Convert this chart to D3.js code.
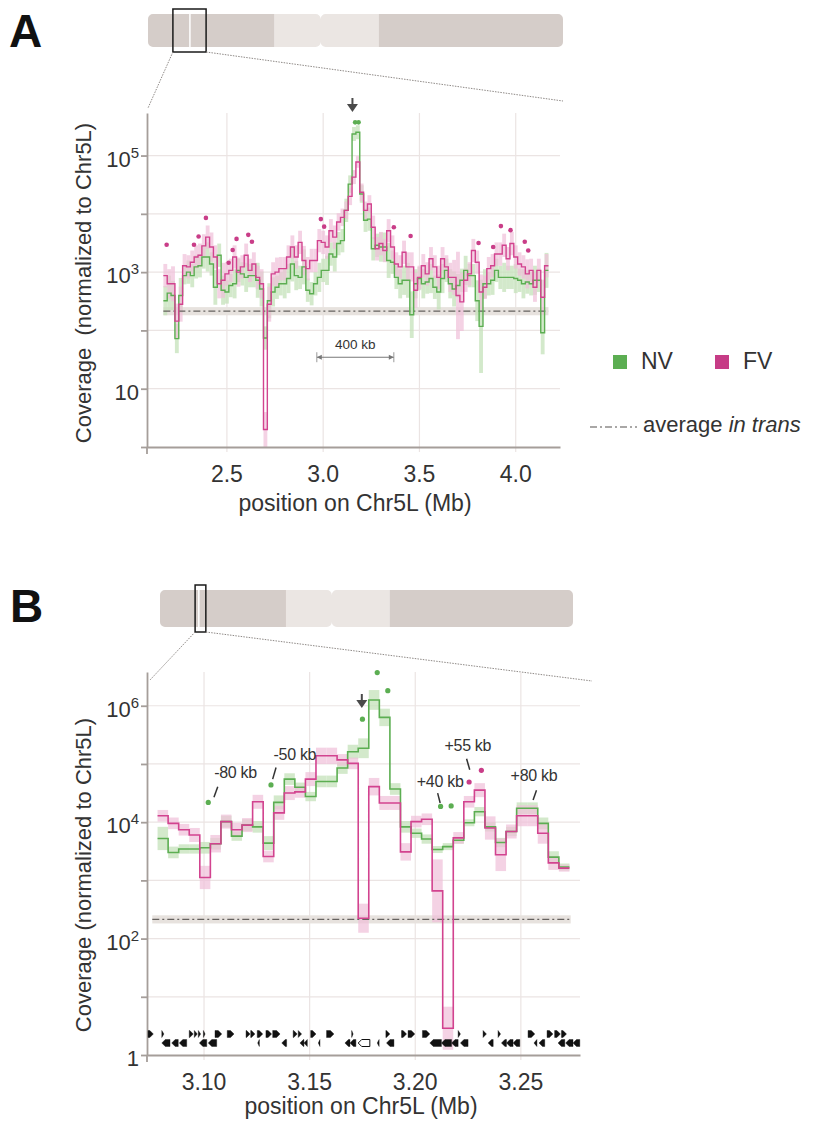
<!DOCTYPE html>
<html>
<head>
<meta charset="utf-8">
<script src="https://cdn.jsdelivr.net/npm/d3@7"></script>
<style>
  body { margin: 0; background: #fff; }
  svg text { font-family: 'Liberation Sans', Arial, sans-serif; fill: #333; white-space: pre; }
</style>
</head>
<body>
<div id="chart"></div>
<script>

// ---- panel A: 20 kb bins, log10 coverage ----
var binStartA = 2.17, binWidthA = 0.02;

var nvA = [
  2.51, 2.64, 2.60, 1.86, 2.60, 2.94, 3.00, 2.94, 3.09, 3.11,
  3.26, 3.26, 3.14, 2.74, 3.29, 2.69, 2.66, 2.77, 2.80, 3.03,
  2.97, 2.91, 2.94, 2.94, 2.86, 2.71, 1.87, 2.51, 2.66, 2.74,
  2.80, 2.80, 2.89, 3.14, 2.94, 2.91, 3.09, 2.69, 2.63, 2.80,
  2.91, 3.03, 3.03, 3.31, 3.26, 3.49, 3.54, 4.06, 4.51, 5.37,
  5.40, 4.34, 3.89, 3.91, 3.40, 3.46, 3.43, 3.43, 3.20, 3.17,
  2.91, 2.80, 2.86, 2.86, 2.27, 2.80, 2.89, 2.80, 2.83, 2.89,
  2.74, 2.66, 2.89, 3.03, 2.80, 2.71, 2.77, 2.86, 3.03, 2.94,
  2.94, 2.51, 2.07, 2.80, 2.80, 2.86, 3.03, 2.91, 2.91, 2.91,
  2.91, 2.89, 2.86, 2.80, 2.83, 2.80, 2.86, 2.86, 1.96, 3.03
];

var fvA = [
  2.94, 2.80, 2.80, 2.16, 2.45, 3.11, 3.09, 3.17, 3.26, 3.29,
  3.45, 3.60, 3.43, 3.26, 2.80, 2.86, 2.97, 3.03, 3.26, 3.00,
  3.09, 3.29, 3.03, 3.14, 2.91, 2.80, 0.30, 2.45, 2.97, 3.00,
  3.06, 3.06, 3.26, 3.43, 3.26, 3.51, 3.20, 3.06, 3.20, 3.20,
  3.54, 3.51, 3.43, 3.71, 3.60, 3.86, 3.94, 4.06, 4.30, 4.63,
  4.89, 4.37, 4.06, 4.17, 3.77, 3.40, 3.49, 3.37, 3.71, 3.43,
  3.14, 3.09, 3.34, 3.09, 3.09, 2.69, 2.91, 3.11, 2.97, 3.23,
  3.09, 2.91, 3.23, 3.09, 2.91, 2.91, 2.60, 2.49, 2.86, 2.97,
  3.37, 3.17, 2.66, 2.74, 3.06, 3.11, 3.31, 3.31, 3.46, 3.23,
  3.49, 3.26, 3.14, 3.09, 2.97, 3.03, 2.74, 3.03, 2.57, 3.11
];

// replicate spread (half range, log10 units)
var nvSpreadA = [
  0.25, 0.30, 0.25, 0.25, 0.30, 0.15, 0.20, 0.20, 0.20, 0.20,
  0.20, 0.25, 0.20, 0.30, 0.20, 0.25, 0.20, 0.20, 0.25, 0.20,
  0.20, 0.25, 0.20, 0.20, 0.30, 0.30, 0.20, 0.30, 0.25, 0.20,
  0.20, 0.25, 0.25, 0.30, 0.25, 0.20, 0.30, 0.20, 0.20, 0.20,
  0.25, 0.20, 0.25, 0.20, 0.25, 0.20, 0.20, 0.20, 0.15, 0.12,
  0.12, 0.15, 0.20, 0.20, 0.20, 0.20, 0.25, 0.25, 0.30, 0.20,
  0.20, 0.25, 0.25, 0.30, 0.40, 0.25, 0.20, 0.25, 0.20, 0.25,
  0.20, 0.30, 0.25, 0.20, 0.25, 0.30, 0.20, 0.20, 0.25, 0.20,
  0.20, 0.35, 0.80, 0.25, 0.20, 0.25, 0.20, 0.20, 0.25, 0.20,
  0.20, 0.25, 0.20, 0.25, 0.20, 0.20, 0.25, 0.20, 0.37, 0.30
];

var fvSpreadA = [
  0.20, 0.25, 0.30, 0.30, 0.30, 0.20, 0.20, 0.20, 0.20, 0.20,
  0.20, 0.20, 0.25, 0.20, 0.25, 0.30, 0.20, 0.20, 0.20, 0.25,
  0.20, 0.20, 0.20, 0.20, 0.20, 0.25, 0.30, 0.30, 0.20, 0.25,
  0.20, 0.20, 0.20, 0.20, 0.20, 0.20, 0.25, 0.20, 0.20, 0.20,
  0.20, 0.20, 0.20, 0.20, 0.20, 0.15, 0.15, 0.15, 0.15, 0.12,
  0.10, 0.15, 0.15, 0.15, 0.20, 0.20, 0.20, 0.20, 0.20, 0.20,
  0.20, 0.20, 0.20, 0.25, 0.25, 0.30, 0.20, 0.20, 0.20, 0.20,
  0.20, 0.20, 0.20, 0.20, 0.25, 0.30, 0.75, 0.50, 0.20, 0.20,
  0.20, 0.20, 0.30, 0.20, 0.20, 0.20, 0.20, 0.20, 0.20, 0.20,
  0.20, 0.20, 0.20, 0.20, 0.25, 0.20, 0.25, 0.20, 0.30, 0.20
];

// outliers [Mb, log10 coverage]
var nvDotsA = [[3.166, 5.57], [3.184, 5.57]];
var fvDotsA = [
  [2.187, 3.47], [2.329, 3.47], [2.353, 3.61], [2.391, 3.93], [2.509, 3.16],
  [2.530, 3.38], [2.550, 3.57], [2.611, 3.64], [2.630, 3.52], [2.988, 3.91],
  [3.005, 3.78], [3.367, 3.77], [3.454, 3.62], [3.807, 3.50], [3.883, 3.43],
  [3.923, 3.79], [3.973, 3.72], [4.047, 3.52], [4.065, 3.37]
];

// ---- panel B: 5 kb bins, log10 coverage ----
var binStartB = 3.078, binWidthB = 0.005;

var nvB = [
  3.72, 3.48, 3.54, 3.54, 3.56, 3.63, 4.01, 3.76, 3.95, 3.92,
  3.64, 4.34, 4.74, 4.60, 4.44, 4.70, 4.70, 4.93, 5.21, 5.27,
  6.10, 5.80, 4.57, 3.92, 3.81, 3.71, 3.53, 3.58, 3.69, 3.99,
  4.18, 3.92, 3.65, 3.84, 4.24, 4.24, 3.98, 3.40, 3.23
];

var fvB = [
  4.11, 3.98, 3.87, 3.78, 3.05, 3.63, 4.01, 3.87, 3.95, 4.35,
  3.41, 4.16, 4.50, 4.52, 4.74, 5.14, 5.14, 5.07, 5.01, 2.35,
  4.61, 4.33, 4.33, 3.49, 4.01, 4.05, 2.82, 0.46, 3.73, 4.35,
  4.55, 3.90, 3.44, 3.84, 4.11, 4.11, 3.81, 3.30, 3.21
];

var nvSpreadB = [
  0.20, 0.10, 0.08, 0.08, 0.10, 0.10, 0.10, 0.08, 0.10, 0.10,
  0.12, 0.12, 0.10, 0.08, 0.08, 0.10, 0.10, 0.10, 0.12, 0.17,
  0.17, 0.15, 0.10, 0.10, 0.08, 0.08, 0.06, 0.06, 0.06, 0.06,
  0.08, 0.08, 0.08, 0.08, 0.10, 0.10, 0.10, 0.10, 0.06
];

var fvSpreadB = [
  0.10, 0.10, 0.10, 0.12, 0.20, 0.15, 0.12, 0.12, 0.12, 0.12,
  0.10, 0.12, 0.12, 0.10, 0.12, 0.14, 0.14, 0.10, 0.10, 0.25,
  0.15, 0.12, 0.12, 0.15, 0.10, 0.10, 0.54, 0.37, 0.10, 0.10,
  0.12, 0.20, 0.28, 0.12, 0.18, 0.18, 0.18, 0.12, 0.06
];

var nvDotsB = [[3.102, 4.34], [3.1317, 4.64], [3.175, 5.77], [3.182, 6.57], [3.187, 6.26], [3.212, 4.27], [3.217, 4.28]];
var fvDotsB = [[3.2255, 4.69], [3.2313, 4.89]];

// distance labels: text anchor and leader tick, [Mb, log10]
var distLabelsB = [
  { text: '-80 kb', at: [3.1149, 4.76], tick: [[3.1047, 4.43], [3.1065, 4.61]] },
  { text: '-50 kb', at: [3.1430, 5.07], tick: [[3.1325, 4.74], [3.1341, 4.94]] },
  { text: '+40 kb', at: [3.2118, 4.60], tick: [[3.2106, 4.50], [3.2118, 4.33]] },
  { text: '+55 kb', at: [3.2249, 5.23], tick: [[3.2243, 5.09], [3.2258, 4.90]] },
  { text: '+80 kb', at: [3.2562, 4.71], tick: [[3.2574, 4.55], [3.2558, 4.38]] }
];

// gene models: [start Mb, end Mb, strand, open]
var genesB = [
  [3.0735, 3.0760, 1], [3.0800, 3.0810, 1], [3.0930, 3.0949, 1], [3.0954, 3.0968, 1],
  [3.0973, 3.0984, 1], [3.0997, 3.1005, 1], [3.1052, 3.1084, 1], [3.1110, 3.1142, 1],
  [3.1199, 3.1218, 1], [3.1221, 3.1241, 1], [3.1252, 3.1278, 1], [3.1293, 3.1320, 1],
  [3.1325, 3.1360, 1], [3.1422, 3.1441, 1], [3.1446, 3.1462, 1], [3.1505, 3.1530, 1],
  [3.1580, 3.1615, 1], [3.1699, 3.1706, 1], [3.1861, 3.1880, 1], [3.1935, 3.1959, 1],
  [3.1966, 3.1998, 1], [3.2034, 3.2069, 1], [3.2203, 3.2214, 1], [3.2321, 3.2337, 1],
  [3.2392, 3.2404, 1], [3.2534, 3.2566, 1], [3.2624, 3.2652, 1], [3.2660, 3.2687, 1],
  [3.2692, 3.2716, 1],
  [3.0800, 3.0839, -1], [3.0847, 3.0878, -1], [3.0883, 3.0918, -1], [3.0978, 3.1013, -1],
  [3.1020, 3.1060, -1], [3.1254, 3.1262, -1], [3.1368, 3.1391, -1], [3.1454, 3.1473, -1],
  [3.1473, 3.1489, -1], [3.1541, 3.1549, -1], [3.1667, 3.1691, -1], [3.1691, 3.1719, -1],
  [3.1730, 3.1785, -1, true], [3.1820, 3.1829, -1], [3.1864, 3.1899, -1], [3.2069, 3.2124, -1],
  [3.2124, 3.2172, -1], [3.2172, 3.2203, -1], [3.2214, 3.2250, -1], [3.2345, 3.2369, -1],
  [3.2408, 3.2432, -1], [3.2432, 3.2463, -1], [3.2463, 3.2495, -1], [3.2562, 3.2576, -1],
  [3.2586, 3.2613, -1], [3.2676, 3.2708, -1], [3.2712, 3.2747, -1], [3.2747, 3.2779, -1]
];

var avgInTrans = 2.33;           // log10
var xTicksA = [2.5, 3.0, 3.5, 4.0];
var xTicksB = [3.10, 3.15, 3.20, 3.25];
var yLabelsA = [5, 3, 1];
var yLabelsB = [6, 4, 2, 0];
var scaleBarA = [2.967, 3.367];

// chromosome ideogram, fractions of Chr5L
var chrBands = [[0, 0.305, 'arm'], [0.305, 0.556, 'pale'], [0.556, 1, 'arm']];
var centromere = 0.416;

var colors = { nv: '#5cae52', fv: '#d2438f', nvBand: '#c4e2b9', fvBand: '#f0bfd8',
  arm: '#d5cdc9', pale: '#ebe6e3', grid: '#ebe4e3', axis: '#a59e9a' };

var svg = d3.select('#chart').append('svg')
  .attr('id', 'fig')
  .attr('width', 816)
  .attr('height', 1126);

var CoveragePanel = function () {

  var opt, g, x, y;

  function init(options) {
    opt = options;
    draw();
  }

  function steps(start, width, values) {
    var pts = values.map(function (v, i) { return [start + i * width, v]; });
    pts.push([start + values.length * width, values[values.length - 1]]);
    return pts;
  }

  function drawChromosome() {
    var c = opt.chr;
    var cx = d3.scaleLinear().domain([0, 1]).range([c.x0, c.x1]);
    var h = c.y1 - c.y0;
    var clipId = opt.id + '-chr';

    var clip = g.append('clipPath').attr('id', clipId);
    clip.append('rect').attr('x', cx(0)).attr('y', c.y0)
      .attr('width', cx(centromere) - cx(0)).attr('height', h).attr('rx', 5);
    clip.append('rect').attr('x', cx(centromere)).attr('y', c.y0)
      .attr('width', cx(1) - cx(centromere)).attr('height', h).attr('rx', 5);

    g.append('g').attr('clip-path', 'url(#' + clipId + ')')
      .selectAll('rect')
      .data(chrBands)
      .enter()
      .append('rect')
        .attr('x', function (d) { return cx(d[0]); })
        .attr('width', function (d) { return cx(d[1]) - cx(d[0]); })
        .attr('y', c.y0)
        .attr('height', h)
        .attr('fill', function (d) { return colors[d[2]]; });

    // zoomed window
    g.append('line')
      .attr('x1', cx(c.mark)).attr('x2', cx(c.mark))
      .attr('y1', c.y0).attr('y2', c.y1)
      .attr('stroke', '#fff').attr('stroke-width', 1.5);

    g.append('rect')
      .attr('x', cx(c.view[0])).attr('y', c.y0 - 5)
      .attr('width', cx(c.view[1]) - cx(c.view[0]))
      .attr('height', h + 10)
      .attr('fill', 'none')
      .attr('stroke', '#1a1a1a')
      .attr('stroke-width', 1.5);

    var lines = [[cx(c.view[0]), c.to[0]], [cx(c.view[1]), c.to[1]]];
    g.selectAll('.zoom-line')
      .data(lines)
      .enter()
      .append('line')
        .attr('class', 'zoom-line')
        .attr('x1', function (d) { return d[0]; })
        .attr('y1', c.y1 + 5)
        .attr('x2', function (d) { return d[1][0]; })
        .attr('y2', function (d) { return d[1][1]; })
        .attr('stroke', '#8f8a87')
        .attr('stroke-width', 1)
        .attr('stroke-dasharray', '1.5,1.2');
  }

  function draw() {

    g = svg.append('g');

    x = d3.scaleLinear().domain(opt.xDomain).range([opt.left, opt.right]);
    y = d3.scaleLog().domain([1, Math.pow(10, opt.yTopExp)]).range([opt.bottom, opt.top]);

    var ly = function (v) { return y(Math.pow(10, v)); };
    var decades = d3.range(0, Math.floor(opt.yTopExp) + 1);

    // panel letter
    g.append('text')
      .attr('x', opt.letter[0]).attr('y', opt.letter[1])
      .style('font-size', '46px').style('font-weight', 'bold').style('fill', '#111')
      .text(opt.id.toUpperCase());

    drawChromosome();

    // Grid
    g.append('g').selectAll('line')
        .data(decades.slice(1))
        .enter()
      .append('line')
        .attr('x1', opt.left).attr('x2', opt.right)
        .attr('y1', ly).attr('y2', ly)
        .attr('stroke', colors.grid).attr('stroke-width', 1.2);

    g.append('g').selectAll('line')
        .data(opt.xTicks)
        .enter()
      .append('line')
        .attr('x1', x).attr('x2', x)
        .attr('y1', opt.top).attr('y2', opt.bottom + 5)
        .attr('stroke', colors.grid).attr('stroke-width', 1.2);

    var clipId = opt.id + '-plot';
    g.append('clipPath').attr('id', clipId)
      .append('rect')
        .attr('x', opt.left).attr('y', opt.top - 40)
        .attr('width', opt.right - opt.left)
        .attr('height', opt.bottom - opt.top + 40);

    var plot = g.append('g').attr('clip-path', 'url(#' + clipId + ')');

    // average in trans band
    var avgX = [opt.avgRange[0], opt.avgRange[1]];
    plot.append('rect')
      .attr('x', x(avgX[0])).attr('width', x(avgX[1]) - x(avgX[0]))
      .attr('y', ly(avgInTrans + 0.07))
      .attr('height', ly(avgInTrans - 0.07) - ly(avgInTrans + 0.07))
      .attr('fill', '#e7e2de');

    // replicate bands
    function bands(values, spread, color, opacity) {
      plot.append('g').selectAll('rect')
          .data(values)
          .enter()
        .append('rect')
          .attr('x', function (d, i) { return x(opt.binStart + i * opt.binWidth); })
          .attr('width', x(opt.binStart + opt.binWidth) - x(opt.binStart))
          .attr('y', function (d, i) { return ly(d + spread[i]); })
          .attr('height', function (d, i) { return ly(d - spread[i]) - ly(d + spread[i]); })
          .attr('fill', color)
          .attr('opacity', opacity);
    }

    bands(opt.nv, opt.nvSpread, colors.nvBand, 0.75);
    bands(opt.fv, opt.fvSpread, colors.fvBand, 0.7);

    plot.append('line')
      .attr('x1', x(avgX[0])).attr('x2', x(avgX[1]))
      .attr('y1', ly(avgInTrans)).attr('y2', ly(avgInTrans))
      .attr('stroke', '#66625f').attr('stroke-width', 1.2)
      .attr('stroke-dasharray', '7,3,2,3');

    var line = d3.line()
      .x(function (d) { return x(d[0]); })
      .y(function (d) { return ly(d[1]); })
      .curve(d3.curveStepAfter);

    plot.append('path')
      .datum(steps(opt.binStart, opt.binWidth, opt.nv))
      .attr('d', line)
      .attr('fill', 'none')
      .attr('stroke', colors.nv)
      .attr('stroke-width', opt.lineWidth);

    plot.append('path')
      .datum(steps(opt.binStart, opt.binWidth, opt.fv))
      .attr('d', line)
      .attr('fill', 'none')
      .attr('stroke', colors.fv)
      .attr('stroke-width', opt.lineWidth);

    // Outliers
    function dots(data, color) {
      g.append('g').selectAll('circle')
          .data(data)
          .enter()
        .append('circle')
          .attr('cx', function (d) { return x(d[0]); })
          .attr('cy', function (d) { return ly(d[1]); })
          .attr('r', opt.dotR)
          .attr('fill', color);
    }

    dots(opt.nvDots, colors.nv);
    dots(opt.fvDots, '#c93d88');

    // Axes
    var yAxis = g.append('g')
      .attr('transform', 'translate(' + opt.left + ',0)')
      .call(d3.axisLeft(y)
        .tickValues(decades.map(function (e) { return Math.pow(10, e); }))
        .tickSize(6).tickSizeOuter(0).tickFormat(''));

    var xAxis = g.append('g')
      .attr('transform', 'translate(0,' + opt.bottom + ')')
      .call(d3.axisBottom(x).tickValues([]).tickSizeOuter(0));

    [yAxis, xAxis].forEach(function (a) {
      a.selectAll('path, line').attr('stroke', colors.axis).attr('stroke-width', 1.8);
    });

    g.append('line')
      .attr('x1', opt.left).attr('x2', opt.left)
      .attr('y1', opt.bottom).attr('y2', opt.bottom + 7)
      .attr('stroke', colors.axis).attr('stroke-width', 1.8);

    // y tick labels, 10^n
    var yl = g.append('g').selectAll('text')
        .data(opt.yLabels)
        .enter()
      .append('text')
        .attr('x', opt.left - 8)
        .attr('y', function (d) { return ly(d) + 11; })
        .attr('text-anchor', 'end')
        .style('font-size', '22px');

    yl.each(function (d) {
      var t = d3.select(this);
      if (d === 0) { t.text('1'); return; }
      if (d === 1) { t.text('10'); return; }
      t.append('tspan').text('10');
      t.append('tspan').attr('dy', -9).style('font-size', '15px').text(d);
    });

    g.append('g').selectAll('text')
        .data(opt.xTicks)
        .enter()
      .append('text')
        .attr('x', x)
        .attr('y', opt.bottom + 35)
        .attr('text-anchor', 'middle')
        .style('font-size', '23px')
        .text(function (d) { return d.toFixed(opt.xDigits); });

    g.append('text')
      .attr('x', opt.xTitle[0]).attr('y', opt.xTitle[1])
      .attr('text-anchor', 'middle')
      .style('font-size', '23px')
      .text('position on Chr5L (Mb)');

    g.append('text')
      .attr('transform', 'translate(' + opt.yTitle[0] + ',' + opt.yTitle[1] + ') rotate(-90)')
      .attr('text-anchor', 'middle')
      .style('font-size', '22px')
      .text(opt.yTitleText);

    // viewpoint arrow
    var ax = x(opt.arrowAt), ay = opt.arrowTip;
    g.append('line')
      .attr('x1', ax).attr('x2', ax)
      .attr('y1', ay - 14).attr('y2', ay - 6)
      .attr('stroke', '#4a4a4a').attr('stroke-width', 2);
    g.append('path')
      .attr('d', 'M' + (ax - 5.5) + ',' + (ay - 8) + 'L' + (ax + 5.5) + ',' + (ay - 8) + 'L' + ax + ',' + ay + 'Z')
      .attr('fill', '#4a4a4a');
  }

  return {
    init: init,
    x: function () { return x; },
    y: function () { return y; },
    group: function () { return g; }
  };
};

// ---- Panel A ----
var panelA = CoveragePanel();
panelA.init({
  id: 'a', letter: [9, 47],
  left: 147, right: 560, top: 113, bottom: 447,
  xDomain: [2.085, 4.23], yTopExp: 5.73,
  xTicks: xTicksA, xDigits: 1, yLabels: yLabelsA,
  binStart: binStartA, binWidth: binWidthA,
  nv: nvA, fv: fvA, nvSpread: nvSpreadA, fvSpread: fvSpreadA,
  nvDots: nvDotsA, fvDots: fvDotsA,
  avgRange: [2.17, 4.17],
  dotR: 2.3, lineWidth: 1.4,
  arrowAt: 3.152, arrowTip: 112,
  xTitle: [355, 511], yTitle: [91, 283],
  yTitleText: 'Coverage  (normalized to Chr5L)',
  chr: { x0: 148, x1: 563, y0: 14, y1: 47, view: [0.060, 0.140], mark: 0.101, to: [[148, 108], [563, 101]] }
});

// 400 kb scale bar
(function () {
  var x = panelA.x(), y = panelA.y(), g = panelA.group();
  var by = y(Math.pow(10, 1.54));
  var x0 = x(scaleBarA[0]), x1 = x(scaleBarA[1]);
  g.append('line').attr('x1', x0).attr('x2', x1).attr('y1', by).attr('y2', by)
    .attr('stroke', '#777').attr('stroke-width', 1.2);
  [x0, x1].forEach(function (xx, i) {
    var s = i ? -1 : 1;
    g.append('line').attr('x1', xx).attr('x2', xx).attr('y1', by - 5).attr('y2', by + 5)
      .attr('stroke', '#999').attr('stroke-width', 1);
    g.append('path')
      .attr('d', 'M' + xx + ',' + by + 'L' + (xx + s * 5) + ',' + (by - 2.5) + 'L' + (xx + s * 5) + ',' + (by + 2.5) + 'Z')
      .attr('fill', '#777');
  });
  g.append('text')
    .attr('x', (x0 + x1) / 2).attr('y', by - 8)
    .attr('text-anchor', 'middle')
    .style('font-size', '13.5px')
    .text(Math.round((scaleBarA[1] - scaleBarA[0]) * 1000) + ' kb');
})();

// ---- Panel B ----
var panelB = CoveragePanel();
panelB.init({
  id: 'b', letter: [10, 622],
  left: 147, right: 580, top: 672, bottom: 1055,
  xDomain: [3.073, 3.278], yTopExp: 6.58,
  xTicks: xTicksB, xDigits: 2, yLabels: yLabelsB,
  binStart: binStartB, binWidth: binWidthB,
  nv: nvB, fv: fvB, nvSpread: nvSpreadB, fvSpread: fvSpreadB,
  nvDots: nvDotsB, fvDots: fvDotsB,
  avgRange: [3.0755, 3.2736],
  dotR: 2.6, lineWidth: 1.6,
  arrowAt: 3.1747, arrowTip: 708,
  xTitle: [361, 1114], yTitle: [91, 875],
  yTitleText: 'Coverage (normalized to Chr5L)',
  chr: { x0: 160, x1: 573, y0: 590, y1: 627, view: [0.085, 0.111], mark: 0.094, to: [[150, 680], [592, 681]] }
});

// distance labels and gene track
(function () {
  var x = panelB.x(), y = panelB.y(), g = panelB.group();
  var ly = function (v) { return y(Math.pow(10, v)); };

  var lab = g.append('g').selectAll('g')
      .data(distLabelsB)
      .enter()
    .append('g');

  lab.append('text')
    .attr('x', function (d) { return x(d.at[0]); })
    .attr('y', function (d) { return ly(d.at[1]); })
    .attr('text-anchor', 'middle')
    .style('font-size', '16px')
    .style('letter-spacing', '-0.3px')
    .text(function (d) { return d.text; });

  lab.append('line')
    .attr('x1', function (d) { return x(d.tick[0][0]); })
    .attr('y1', function (d) { return ly(d.tick[0][1]); })
    .attr('x2', function (d) { return x(d.tick[1][0]); })
    .attr('y2', function (d) { return ly(d.tick[1][1]); })
    .attr('stroke', '#333').attr('stroke-width', 1.5);

  var rowY = { '1': 1034, '-1': 1043 };

  g.append('g').selectAll('path')
      .data(genesB)
      .enter()
    .append('path')
      .attr('d', function (d) {
        var x0 = x(d[0]), x1 = x(d[1]), yy = rowY[d[2]], h = 3.5;
        var head = Math.min(3.5, x1 - x0);
        var pts = d[2] > 0
          ? [[x0, yy - h], [x1 - head, yy - h], [x1, yy], [x1 - head, yy + h], [x0, yy + h]]
          : [[x1, yy - h], [x0 + head, yy - h], [x0, yy], [x0 + head, yy + h], [x1, yy + h]];
        return 'M' + pts.join('L') + 'Z';
      })
      .attr('fill', function (d) { return d[3] ? '#fff' : '#111'; })
      .attr('stroke', '#111')
      .attr('stroke-width', function (d) { return d[3] ? 1 : 0.4; });
})();

// ---- Legend ----
(function () {
  var lg = svg.append('g');
  var items = [['NV', colors.nv, 613], ['FV', '#c63c86', 715]];
  items.forEach(function (d) {
    lg.append('rect').attr('x', d[2]).attr('y', 355).attr('width', 14).attr('height', 14).attr('fill', d[1]);
    lg.append('text').attr('x', d[2] + 28).attr('y', 369).style('font-size', '23px').text(d[0]);
  });
  lg.append('line').attr('x1', 590).attr('x2', 637).attr('y1', 427).attr('y2', 427)
    .attr('stroke', '#55514e').attr('stroke-width', 1.2).attr('stroke-dasharray', '7,3,2,3');
  var t = lg.append('text').attr('x', 643).attr('y', 432).style('font-size', '22px');
  t.append('tspan').text('average ');
  t.append('tspan').style('font-style', 'italic').text('in trans');
})();

</script>
</body>
</html>
